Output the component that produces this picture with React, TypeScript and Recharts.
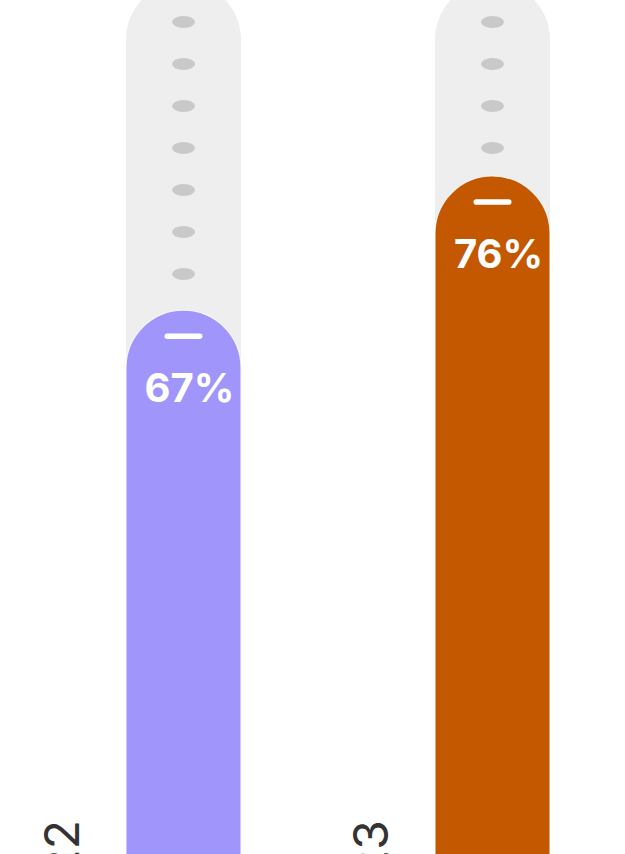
import React from 'react';
import { BarChart, Bar, XAxis, YAxis } from 'recharts';

const years = ['2022', '2023'];
const shares = [67, 76];
const barColors = ['#A095FB', '#C45800'];
const trackMax = 89;

const data = years.map((year, i) => ({ year, share: shares[i], color: barColors[i] }));

const TRACK = '#EEEEEE';
const DOT = '#C9C9C9';

function capPath(x: number, y: number, w: number, h: number) {
  const r = w / 2;
  return `M${x},${y + h} L${x},${y + r} A${r},${r} 0 0 1 ${x + w},${y + r} L${x + w},${y + h} Z`;
}

function Track(props: any) {
  const { x, y, width, height, index, payload } = props;
  const cx = x + width / 2;
  const dots = [];
  for (let dy = 40; dy < height; dy += 42) {
    dots.push(<ellipse key={dy} cx={cx} cy={y + dy} rx={11.5} ry={6} fill={DOT} />);
  }
  const label = (payload && payload.year) || years[index];
  const lx = x - 47;
  const ly = y + 838;
  return (
    <g>
      <path d={capPath(x, y, width, height)} fill={TRACK} />
      {dots}
      <text
        x={lx}
        y={ly}
        transform={`rotate(-90 ${lx} ${ly})`}
        textAnchor="end"
        fill="#333333"
        fontSize={48}
        fontFamily="Inter, 'Noto Sans', sans-serif"
        fontWeight={400}
      >
        {label}
      </text>
    </g>
  );
}

function Fill(props: any) {
  const { x, y, width, height, payload } = props;
  const cx = x + width / 2;
  return (
    <g>
      <path
        d={capPath(x, y, width, height)}
        fill={payload.color}
        stroke="#FFFFFF"
        strokeWidth={1.2}
        strokeOpacity={0.8}
      />
      <rect x={cx - 19} y={y + 26 - 2.8} width={38} height={5.6} rx={2.8} fill="#FFFFFF" />
      <text
        x={cx + 6}
        y={y + 92}
        textAnchor="middle"
        fill="#FFFFFF"
        fontSize={40}
        fontWeight={700}
        fontFamily="Inter, 'Noto Sans', sans-serif"
      >
        {payload.share}%
      </text>
    </g>
  );
}

export default function App() {
  return (
    <div style={{ position: 'absolute', left: 0, top: 0, width: 625, height: 854, overflow: 'hidden', background: '#FFFFFF' }}>
      <div style={{ position: 'absolute', left: 0, top: -38 }}>
        <BarChart
          width={660}
          height={1358}
          data={data}
          margin={{ top: 20, right: 13, left: 29, bottom: 10 }}
          barSize={115}
        >
          <XAxis dataKey="year" hide />
          <YAxis hide domain={[0, trackMax]} />
          <Bar
            dataKey="share"
            isAnimationActive={false}
            background={Track}
            shape={Fill}
          />
        </BarChart>
      </div>
    </div>
  );
}
